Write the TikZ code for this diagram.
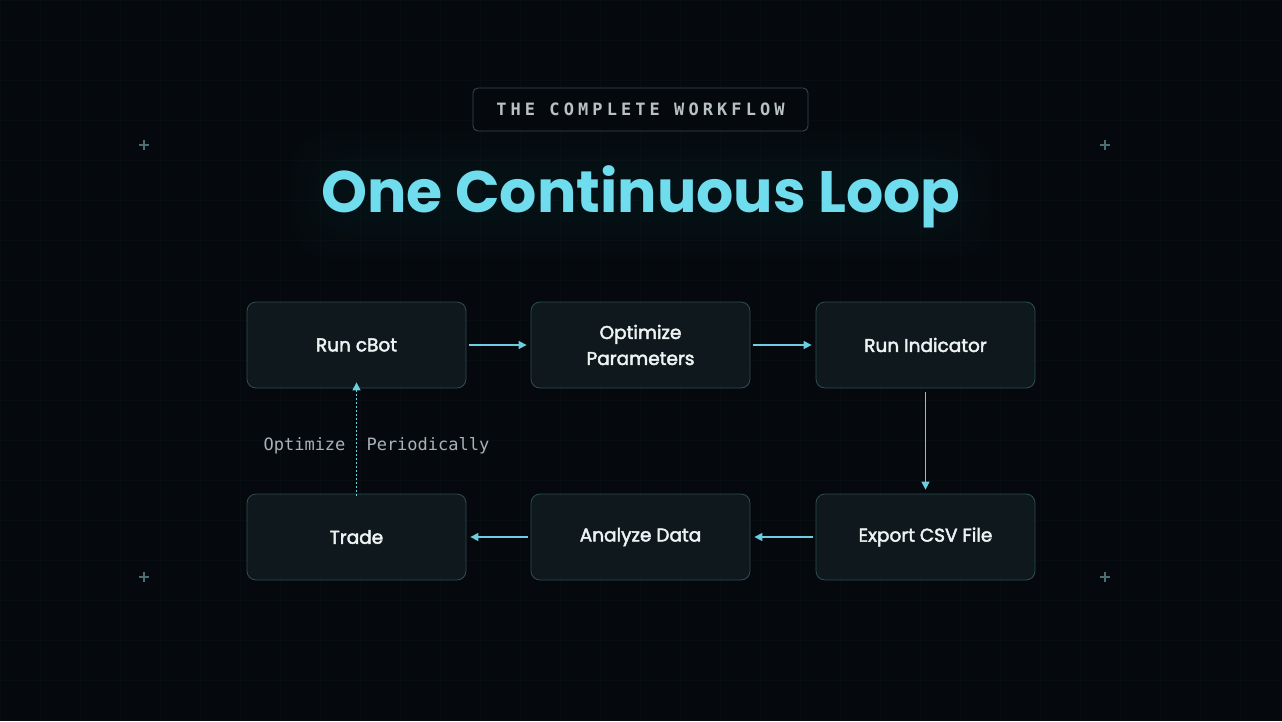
\documentclass[tikz,border=0pt]{standalone}
\usepackage{fontspec}
\setmainfont{Poppins}
\newfontfamily\monof{DejaVu Sans Mono}
\newfontfamily\boxfont[FakeBold=2.5]{Poppins}
\usetikzlibrary{arrows.meta}
\definecolor{bg}{HTML}{05090D}
\definecolor{gridc}{HTML}{080D12}
\definecolor{boxfill}{HTML}{0F181C}
\definecolor{boxline}{HTML}{2E4D53}
\definecolor{cyanT}{HTML}{6FDDEE}
\definecolor{arrowc}{HTML}{6CCFE0}
\definecolor{txt}{HTML}{EDF2F3}
\definecolor{greyT}{HTML}{A9B2B6}
\definecolor{plusc}{HTML}{4C6D76}
\definecolor{pillline}{HTML}{3A4A50}
\tikzset{
  stepbox/.style={draw=boxline, line width=0.8pt, fill=boxfill, rounded corners=9pt,
    minimum width=219pt, minimum height=86pt, align=center, text=txt,
    font=\boxfont\fontsize{18.5}{26}\selectfont},
  flow/.style={draw=arrowc, line width=1.4pt, -{Triangle[length=8pt,width=8pt]}},
  plusmark/.style={draw=plusc, line width=1.2pt},
}
\begin{document}
\begin{tikzpicture}[x=1pt,y=-1pt]
\fill[bg] (0,0) rectangle (1282,721);
\useasboundingbox (0,0) rectangle (1282,721);
\foreach \gx in {0,40,...,1280} \draw[gridc, line width=0.5pt] (\gx,0) -- (\gx,721);
\foreach \gy in {0,40,...,720} \draw[gridc, line width=0.5pt] (0,\gy) -- (1282,\gy);
% plus marks
\foreach \px/\py in {144/145,1105/145,144/577,1105/577}
  \draw[plusmark] (\px-5,\py) -- (\px+5,\py) (\px,\py-5) -- (\px,\py+5);
% header pill
\node[draw=pillline, line width=0.8pt, fill=bg, rounded corners=5pt, minimum width=335pt, minimum height=43pt,
  text=greyT!80!white, font=\monof\bfseries\fontsize{17}{20}\selectfont] (pill) at (640.5,109.5)
  {\addfontfeature{LetterSpace=24}THE COMPLETE WORKFLOW};
% soft title glow
\foreach \r in {40,34,...,4}{
  \fill[cyanT, opacity=0.008, rounded corners=40pt] (330-\r,172-\r) rectangle (952+\r,218+\r);
}
% title
\node[text=cyanT, font=\bfseries\fontsize{58.5}{66}\selectfont] (title) at (641,197) {One Continuous Loop};
% boxes
\node[stepbox] (cbot) at (356.5,345) {Run cBot};
\node[stepbox] (opt) at (640.5,345) {Optimize\\Parameters};
\node[stepbox] (ind) at (925.5,345) {Run Indicator};
\node[stepbox] (trade) at (356.5,537) {Trade};
\node[stepbox] (ana) at (640.5,537) {Analyze Data};
\node[stepbox] (csv) at (925.5,537) {Export CSV File};
% connectors
\draw[flow] ([xshift=3pt]cbot.east) -- ([xshift=-4pt]opt.west);
\draw[flow] ([xshift=3pt]opt.east) -- ([xshift=-4pt]ind.west);
\draw[flow] ([yshift=-4pt]ind.south) -- ([yshift=4pt]csv.north);
\draw[flow] ([xshift=-3pt]csv.west) -- ([xshift=4pt]ana.east);
\draw[flow] ([xshift=-3pt]ana.west) -- ([xshift=4pt]trade.east);
\draw[draw=arrowc, line width=1.4pt, dash pattern=on 1.5pt off 2.5pt, -{Triangle[length=8pt,width=8pt]}]
  ([yshift=-2pt]trade.north) -- ([yshift=6pt]cbot.south);
\node[text=greyT, font=\monof\fontsize{17}{19}\selectfont, anchor=east] (lblA) at (349,446) {Optimize};
\node[text=greyT, font=\monof\fontsize{17}{19}\selectfont, anchor=west] (lblB) at (363,446) {Periodically};
\end{tikzpicture}
\end{document}
